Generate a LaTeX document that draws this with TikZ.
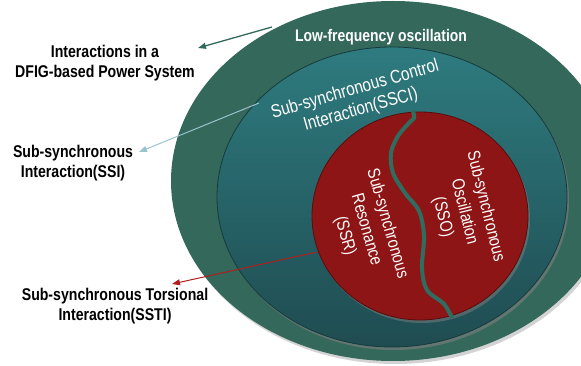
\documentclass[tikz,border=0pt]{standalone}
\usepackage{fontspec}
\setmainfont{Liberation Sans}[FakeStretch=0.83]
\usetikzlibrary{shadows,arrows.meta}
\definecolor{outerg}{HTML}{34685A}
\definecolor{tealtop}{HTML}{2E7B7F}
\definecolor{tealbot}{HTML}{1F4C51}
\definecolor{tealedge}{HTML}{173A3C}
\definecolor{redc}{HTML}{8E1515}
\definecolor{rededge}{HTML}{5A0C0C}
\definecolor{wavec}{HTML}{2F6D60}
\definecolor{bluearr}{HTML}{9BC2CF}
\definecolor{redarr}{HTML}{B01E1E}
\tikzset{
  lab/.style={font=\bfseries\fontsize{17}{20}\selectfont, align=center, text=black, inner sep=0pt},
  wlab/.style={font=\fontsize{18.5}{21}\selectfont, align=center, text=white, inner sep=0pt},
  rlab/.style={font=\fontsize{17.5}{22}\selectfont, align=center, text=white, inner sep=0pt},
  arr/.style={line width=1.3pt, -{Triangle[length=8pt,width=6pt]}},
  shad/.style={drop shadow={opacity=#1, shadow xshift=2pt, shadow yshift=-3pt}},
}
\begin{document}
\begin{tikzpicture}[x=1pt,y=-1pt]
\useasboundingbox (0,0) rectangle (581,366);
\begin{scope}
\clip (0,0) rectangle (581,366);
\fill[outerg, shad=0.35] (393,181) ellipse [x radius=222pt, y radius=180pt];
\path[shad=0.6, top color=tealtop, bottom color=tealbot, draw=tealedge, line width=0.8pt]
  (392,197) ellipse [x radius=175pt, y radius=150pt];
\path[shad=0.5, fill=redc, draw=rededge, line width=0.8pt]
  (420,216) ellipse [x radius=108pt, y radius=104pt];
\draw[wavec, line width=4pt, line cap=butt]
  plot[smooth, tension=0.55] coordinates {(413,111) (414,118) (409,123) (398,136) (391,153) (393,173) (405,193) (419,211) (424,236) (422,268) (427,290) (444,304) (452,318)};
\end{scope}

\node[text=white, font=\bfseries\fontsize{16.8}{19}\selectfont, inner sep=0pt] (lfo) at (381,37) {Low-frequency oscillation};
\node[wlab, rotate=16] (ssci) at (358,100) {Sub-synchronous Control\\Interaction(SSCI)};
\node[rlab, rotate=-74] (ssr) at (366,230) {Sub-synchronous\\Resonance\\(SSR)};
\node[rlab, rotate=-76] (sso) at (464,212) {Sub-synchronous\\Oscillation\\(SSO)};

\node[lab] (dfig) at (105,63) {Interactions in a\\DFIG-based Power System};
\node[lab] (ssi) at (73,163) {Sub-synchronous\\Interaction(SSI)};
\node[lab] (ssti) at (115,306) {Sub-synchronous Torsional\\Interaction(SSTI)};

\coordinate (a1s) at (272,27);
\coordinate (a1e) at (198,48);
\coordinate (a2s) at (259,103);
\coordinate (a2e) at (139,152);
\coordinate (a3s) at (317,252);
\coordinate (a3e) at (172,284);
\draw[arr, outerg] (a1s) -- (a1e);
\draw[arr, bluearr, line width=1pt] (a2s) -- (a2e);
\draw[arr, redarr, line width=1pt] (a3s) -- (a3e);
\end{tikzpicture}
\end{document}
